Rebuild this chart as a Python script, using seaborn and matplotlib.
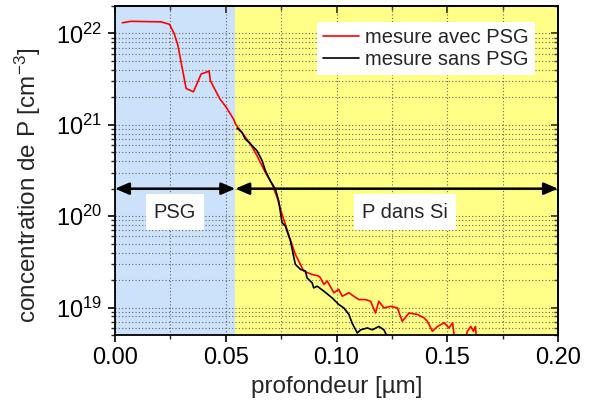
import numpy as np
import pandas as pd
import matplotlib
matplotlib.use("Agg")
import matplotlib.pyplot as plt
import seaborn as sns
from matplotlib.ticker import LogLocator, MultipleLocator, NullFormatter

# ---- data (depth in µm, concentration in cm^-3) ----
x_avec = [0.0033, 0.0072, 0.0208, 0.0246, 0.0267, 0.0284, 0.0321, 0.0354, 0.0389, 0.0422,
          0.0425, 0.0430, 0.0445, 0.0475, 0.0502, 0.0535, 0.0543, 0.0566, 0.0611, 0.0641,
          0.0679, 0.0709, 0.0732, 0.0754, 0.0784, 0.0814, 0.0837, 0.0852, 0.0890, 0.0920,
          0.0928, 0.0943, 0.0958, 0.0988, 0.1010, 0.1026, 0.1056, 0.1078, 0.1101, 0.1131,
          0.1154, 0.1176, 0.1191, 0.1214, 0.1244, 0.1275, 0.1297, 0.1327, 0.1365, 0.1395,
          0.1410, 0.1433, 0.1456, 0.1486, 0.1508, 0.1524, 0.1531, 0.1538, 0.1580, 0.1591,
          0.1606, 0.1618, 0.1627, 0.1633]
y_avec = [1.31e22, 1.36e22, 1.34e22, 1.26e22, 1.0e22, 7.4e21, 2.5e21, 2.3e21, 3.6e21, 3.85e21,
          3.9e21, 3.07e21, 2.6e21, 1.9e21, 1.56e21, 1.16e21, 1.03e21, 8.65e20, 6.2e20, 4.6e20,
          3.0e20, 2.25e20, 1.6e20, 1.05e20, 6.3e19, 3.82e19, 2.97e19, 2.5e19, 2.3e19, 2.21e19,
          2.1e19, 1.79e19, 1.95e19, 1.45e19, 1.58e19, 1.33e19, 1.45e19, 1.33e19, 1.22e19, 1.22e19,
          1.17e19, 8.7e18, 1.17e19, 9.9e18, 1.03e19, 9.9e18, 7.06e18, 8.7e18, 8.4e18, 7.7e18,
          7.06e18, 5.5e18, 6.2e18, 6.8e18, 5.97e18, 6.8e18, 5.05e18, 4.3e18, 4.3e18, 5.5e18,
          6.2e18, 5.5e18, 6.2e18, 4.3e18]

x_sans = [0.0551, 0.0573, 0.0588, 0.0611, 0.0641, 0.0664, 0.0679, 0.0701, 0.0724, 0.0739,
          0.0754, 0.0769, 0.0792, 0.0814, 0.0837, 0.0860, 0.0867, 0.0890, 0.0897, 0.0913,
          0.0943, 0.0981, 0.1010, 0.1033, 0.1056, 0.1071, 0.1094, 0.1109, 0.1139, 0.1162,
          0.1191, 0.1214, 0.1229]
y_sans = [9.18e20, 8.3e20, 7.0e20, 6.2e20, 5.2e20, 4.06e20, 3.15e20, 2.44e20, 1.98e20, 1.47e20,
          8.5e19, 7.8e19, 5.35e19, 2.97e19, 2.62e19, 2.51e19, 2.11e19, 1.86e19, 1.64e19, 1.71e19,
          1.51e19, 1.27e19, 1.08e19, 9.9e18, 8.4e18, 6.7e18, 5.26e18, 5.7e18, 5.97e18, 5.7e18,
          6.2e18, 5.7e18, 4.8e18]

series_names = ["mesure avec PSG", "mesure sans PSG"]
region_bounds = [0.0, 0.0543, 0.2]
region_labels = ["PSG", "P dans Si"]
arrow_level = 2.0e20
label_level = 1.11e20

df = pd.concat([
    pd.DataFrame({"x": x_avec, "y": y_avec, "série": series_names[0]}),
    pd.DataFrame({"x": x_sans, "y": y_sans, "série": series_names[1]}),
], ignore_index=True)

sns.set_theme(style="ticks")
plt.rcParams["font.family"] = ["Liberation Sans", "DejaVu Sans"]
plt.rcParams["mathtext.fontset"] = "custom"
plt.rcParams["mathtext.rm"] = "Liberation Sans"
plt.rcParams["mathtext.it"] = "Liberation Sans:italic"

fig = plt.figure(figsize=(5.92, 4.07), dpi=100)
ax = fig.add_axes([115 / 592, 1 - 335 / 407, 443 / 592, 329 / 407])

ax.axvspan(region_bounds[0], region_bounds[1], color="#CCE2FA", zorder=0, lw=0)
ax.axvspan(region_bounds[1], region_bounds[2], color="#FFFF88", zorder=0, lw=0)

sns.lineplot(data=df, x="x", y="y", hue="série", palette=["#FF0000", "#000000"],
             linewidth=1.2, ax=ax, estimator=None, sort=False)

ax.set_yscale("log")
ax.set_xlim(0.0, 0.2)
ax.set_ylim(5e18, 2e22)

ax.xaxis.set_major_locator(MultipleLocator(0.05))
ax.xaxis.set_minor_locator(MultipleLocator(0.025))
ax.set_xticks(ax.get_xticks())
ax.set_xticklabels([f"{v:.2f}" for v in ax.get_xticks()])
ax.set_xlim(0.0, 0.2)
ax.yaxis.set_major_locator(LogLocator(base=10, numticks=10))
ax.yaxis.set_minor_locator(LogLocator(base=10, subs=np.arange(2, 10), numticks=20))
ax.yaxis.set_minor_formatter(NullFormatter())

ax.grid(True, which="both", axis="both", color="#666666", linestyle=(0, (1, 2)), linewidth=0.8)
ax.set_axisbelow(True)

ax.tick_params(axis="both", which="major", direction="out", length=5, width=1.2,
               labelsize=17, colors="black", pad=4)
ax.tick_params(axis="both", which="minor", direction="out", length=3, width=1.0)
ax.tick_params(axis="x", which="both", top=False)
ax.tick_params(axis="y", which="both", right=False)

secx = ax.secondary_xaxis("top")
secx.xaxis.set_major_locator(MultipleLocator(0.05))
secx.xaxis.set_minor_locator(MultipleLocator(0.025))
secx.tick_params(which="major", direction="in", length=5, width=1.2, labeltop=False)
secx.tick_params(which="minor", direction="in", length=3, width=1.0)
secy = ax.secondary_yaxis("right")
secy.yaxis.set_major_locator(LogLocator(base=10, numticks=10))
secy.yaxis.set_minor_locator(LogLocator(base=10, subs=np.arange(2, 10), numticks=20))
secy.tick_params(which="major", direction="in", length=5, width=1.2, labelright=False)
secy.tick_params(which="minor", direction="in", length=3, width=1.0, labelright=False)
for a in (ax, secx, secy):
    for s in a.spines.values():
        s.set_linewidth(1.3)
        s.set_color("black")

ax.set_xlabel("profondeur [µm]", fontsize=17.5, labelpad=5)
ax.set_ylabel("concentration de P [cm$^{-3}$]", fontsize=17.5)
ax.yaxis.set_label_coords(-0.162, 0.455)

# region arrows and labels
for (x0, x1), lab in zip(zip(region_bounds[:-1], region_bounds[1:]), region_labels):
    ax.annotate("", xy=(x0, arrow_level), xytext=(x1, arrow_level),
                arrowprops=dict(arrowstyle="<|-|>,head_length=0.7,head_width=0.3",
                                color="black", lw=1.8, shrinkA=0, shrinkB=0),
                zorder=5)
ax.text(0.0271, label_level, region_labels[0], ha="center", va="center", fontsize=14.5,
        bbox=dict(facecolor="white", edgecolor="none", pad=6), zorder=6)
ax.text(0.131, label_level, region_labels[1], ha="center", va="center", fontsize=14.5,
        bbox=dict(facecolor="white", edgecolor="none", pad=6), zorder=6)

leg = ax.legend(loc="upper right", bbox_to_anchor=(0.948, 0.951), borderaxespad=0,
                fontsize=14.5, frameon=True, fancybox=False, handlelength=1.8,
                handletextpad=0.3, borderpad=0.3, labelspacing=0.15, title=None)
leg.get_frame().set_facecolor("white")
leg.get_frame().set_edgecolor("none")
leg.get_frame().set_alpha(1.0)

fig.savefig("out.png", dpi=100)
